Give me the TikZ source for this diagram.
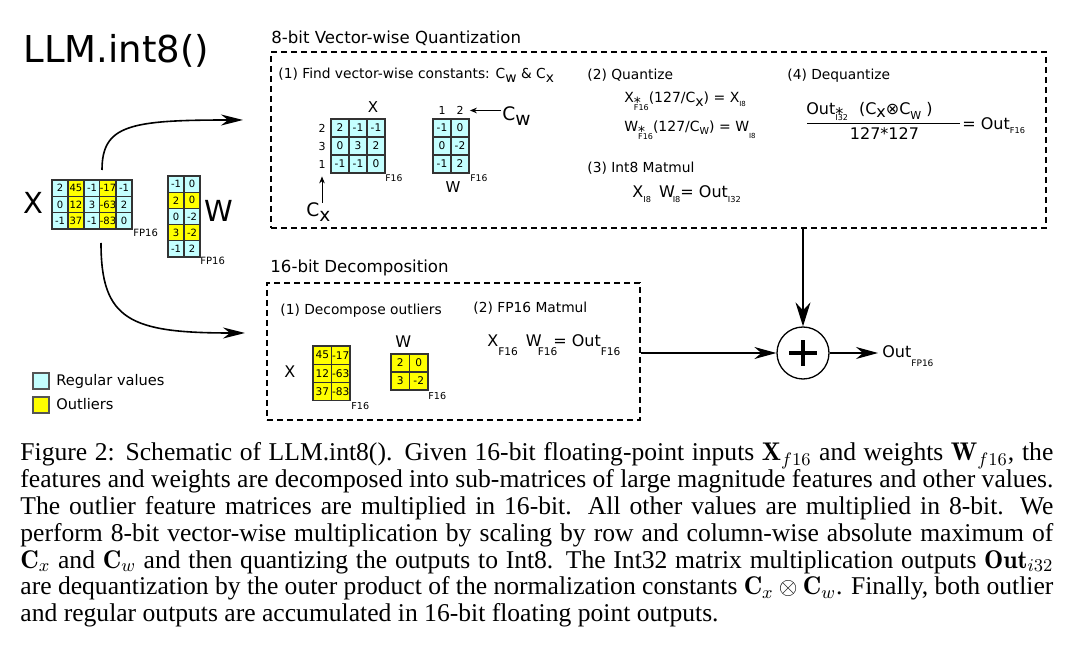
\documentclass[tikz,border=0pt]{standalone}
\usepackage{fontspec}
\newfontfamily\dv{DejaVu Sans}
\newfontfamily\capfont{Liberation Serif}
\usetikzlibrary{arrows.meta}
\newcommand\myfs[1]{\fontsize{#1}{#1}\selectfont}
\newcommand\tsub[3]{\raisebox{-#1}{\myfs{#2}#3}}
\newcommand\starsub[4]{\makebox[0pt][l]{\raisebox{-#1}{*}}\raisebox{-#2}{\myfs{#3}#4}}
\definecolor{cy}{HTML}{C4FFFF}
\definecolor{yl}{HTML}{FFFF00}
\definecolor{cellb}{HTML}{333333}
\definecolor{legb}{HTML}{555555}
\begin{document}
\begin{tikzpicture}[x=0.5pt,y=-0.5pt,
  lbl/.style={inner sep=0, anchor=base west, font=\dv\myfs{6.9}},
  cell/.style={draw=cellb, line width=0.55pt, inner sep=0, font=\dv\myfs{5.3}},
  dbox/.style={draw, line width=1.2pt, dash pattern=on 3pt off 2pt, inner sep=0},
  bigarr/.style={-{Stealth[length=12pt,width=7.5pt,inset=4pt]}, line width=0.75pt},
  midarr/.style={-{Stealth[length=11pt,width=6pt,inset=3.5pt]}, line width=0.75pt},
  curvarr/.style={-{Stealth[length=11pt,width=5.5pt,inset=3.5pt]}, line width=0.8pt},
  smallarr/.style={-{Stealth[length=3.5pt,width=2.8pt]}, line width=0.5pt},
  captext/.style={inner sep=0, anchor=base west, font=\capfont\fontsize{12.8}{13}\selectfont}]
\useasboundingbox (0,0) rectangle (1083,668);

% title
\node[lbl, font=\dv\myfs{18.5}] (title) at (23,63) {LLM.int8()};

% left matrices
\node[lbl, font=\dv\myfs{14.5}] (xlab) at (23,214) {X};
\node[lbl, font=\dv\myfs{14.5}] (wlab) at (204,222) {W};
\foreach \vals [count=\r] in {{2,45,-1,-17,-1},{0,12,3,-63,2},{-1,37,-1,-83,0}}{
  \foreach \v [count=\c] in \vals {
    \ifodd\c\def\col{cy}\else\def\col{yl}\fi
    \node[cell, font=\dv\myfs{5}, fill=\col, minimum width=8pt, minimum height=8.17pt] (lx\r\c) at ({52+16*(\c-0.5)},{180+16.33*(\r-0.5)}) {\v};
  }
}
\foreach \vals [count=\r] in {{-1,0},{2,0},{0,-2},{3,-2},{-1,2}}{
  \ifodd\r\def\col{cy}\else\def\col{yl}\fi
  \foreach \v [count=\c] in \vals {
    \node[cell, font=\dv\myfs{5}, fill=\col, minimum width=8pt, minimum height=8.1pt] (lw\r\c) at ({168+16*(\c-0.5)},{176+16.2*(\r-0.5)}) {\v};
  }
}
\node[inner sep=0, anchor=west, font=\dv\myfs{5}] (xfp) at (133,233) {FP16};
\node[inner sep=0, anchor=west, font=\dv\myfs{5}] (wfp) at (200,261) {FP16};

% curved arrows
\coordinate (ua) at (102,170); \coordinate (ub) at (243,120);
\draw[curvarr] (ua) .. controls (102,125) and (130,120) .. (ub);
\coordinate (la) at (101,243); \coordinate (lb) at (245,333);
\draw[curvarr] (la) .. controls (101,320) and (130,333) .. (lb);

% legend
\node[draw=legb, fill=cy, line width=0.6pt, minimum size=8pt, inner sep=0] (lg1) at (41,381) {};
\node[draw=legb, fill=yl, line width=0.6pt, minimum size=8pt, inner sep=0] (lg2) at (41,405) {};
\node[lbl, font=\dv\myfs{7.3}] (lt1) at (56,386) {Regular values};
\node[lbl, font=\dv\myfs{7.3}] (lt2) at (56,410) {Outliers};

% 8-bit box
\node[lbl, font=\dv\myfs{8.3}] (t8) at (271,44) {8-bit Vector-wise Quantization};
\node[dbox, minimum width=387.5pt, minimum height=88pt] (q8) at (658.5,140) {};
\node[lbl] (s1) at (278,79) {(1) Find vector-wise constants: C\raisebox{-1.7pt}{w} \& C\raisebox{-1.7pt}{x}};
\node[lbl, anchor=base, font=\dv\myfs{7.5}] (xl8) at (373,113) {X};
\foreach \vals [count=\r] in {{2,-1,-1},{0,3,2},{-1,-1,0}}{
  \foreach \v [count=\c] in \vals {
    \node[cell, fill=cy, minimum size=9pt] (sx\r\c) at ({331+18*(\c-0.5)},{119+18*(\r-0.5)}) {\v};
  }
}
\foreach \vals [count=\r] in {{-1,0},{0,-2},{-1,2}}{
  \foreach \v [count=\c] in \vals {
    \node[cell, fill=cy, minimum size=9pt] (sw\r\c) at ({433+18*(\c-0.5)},{119+18*(\r-0.5)}) {\v};
  }
}
\foreach \v/\y [count=\i] in {2/128,3/146,1/164}
  \node[inner sep=0, font=\dv\myfs{5.5}] (rl\i) at (322,\y) {\v};
\foreach \v/\x in {1/442,2/460}
  \node[inner sep=0, font=\dv\myfs{5.5}] (cl\v) at (\x,110.5) {\v};
\node[inner sep=0, anchor=west, font=\dv\myfs{4.6}] (xf16a) at (385,178) {F16};
\node[inner sep=0, anchor=west, font=\dv\myfs{4.6}] (wf16a) at (470,178) {F16};
\node[lbl, anchor=base, font=\dv\myfs{7.5}] (wl8) at (453,193) {W};
\node[lbl, font=\dv\myfs{9.3}] (cx) at (306,217) {C\raisebox{-2.5pt}{x}};
\node[lbl, font=\dv\myfs{9.3}] (cw) at (502,121) {C\raisebox{-2.5pt}{w}};
\draw[smallarr] (rl3.south |- cx.north) -- ([yshift=-4pt]rl3.south);
\draw[smallarr] ([xshift=-0.5pt]cw.west |- cl2) -- ([xshift=3pt]cl2.east);

\node[lbl] (s2) at (587,80) {(2) Quantize};
\node[lbl, font=\dv\myfs{7}] (q1) at (624,103) {X\starsub{2.5pt}{3.7pt}{4}{F16}(127/C\raisebox{-2pt}{x}) = X\tsub{2pt}{3.5}{I8}};
\node[lbl, font=\dv\myfs{7}] (q2) at (624,132) {W\starsub{2.5pt}{3.7pt}{4}{F16}(127/C\tsub{1.5pt}{4.8}{W}) = W\tsub{3.5pt}{3.5}{I8}};
\node[lbl] (s3) at (587,173) {(3) Int8 Matmul};
\node[lbl, font=\dv\myfs{8}] (mm8) at (632,198) {X\tsub{2.5pt}{4.1}{I8}\hspace{4pt}W\hspace{-1pt}\tsub{2.5pt}{4.1}{I8}= Out\tsub{2.5pt}{4.1}{I32}};
\node[lbl] (s4) at (787,80) {(4) Dequantize};
\node[lbl, font=\dv\myfs{8}] (num) at (806,115) {Out\starsub{2.5pt}{2.7pt}{4}{I32}\hspace{3pt} (C\raisebox{-1.5pt}{x}⊗C\tsub{2.5pt}{5.5}{W} )};
\draw[line width=0.5pt] (807,124) -- (960,124);
\node[lbl, anchor=base, font=\dv\myfs{8}] (den) at (884.5,140) {127*127};
\node[lbl, font=\dv\myfs{8}] (dq) at (962,130) {= Out\tsub{2pt}{4.1}{F16}};

% 16-bit box
\node[lbl, font=\dv\myfs{8.3}] (t16) at (270,273) {16-bit Decomposition};
\node[dbox, minimum width=186.5pt, minimum height=68.5pt] (d16) at (453.5,351.5) {};
\node[lbl] (d1) at (280,315) {(1) Decompose outliers};
\node[lbl] (d2) at (473,313) {(2) FP16 Matmul};
\node[lbl, font=\dv\myfs{8}] (xl16) at (284,378) {X};
\node[lbl, font=\dv\myfs{8}] (wl16) at (395,348) {W};
\foreach \vals [count=\r] in {{45,-17},{12,-63},{37,-83}}{
  \foreach \v [count=\c] in \vals {
    \node[cell, fill=yl, minimum width=9.25pt, minimum height=9.15pt] (ox\r\c) at ({313+18.5*(\c-0.5)},{346+18.3*(\r-0.5)}) {\v};
  }
}
\foreach \vals [count=\r] in {{2,0},{3,-2}}{
  \foreach \v [count=\c] in \vals {
    \node[cell, fill=yl, minimum width=9.25pt, minimum height=9pt] (ow\r\c) at ({391+18.5*(\c-0.5)},{354+18*(\r-0.5)}) {\v};
  }
}
\node[inner sep=0, anchor=west, font=\dv\myfs{4.8}] (xf16b) at (351,406.5) {F16};
\node[inner sep=0, anchor=west, font=\dv\myfs{4.8}] (wf16b) at (428,396.5) {F16};
\node[lbl, font=\dv\myfs{8}] (mm16) at (487,347) {X\tsub{4.2pt}{5.3}{F16}\hspace{4pt}W\hspace{-2pt}\tsub{4.2pt}{5.3}{F16}\hspace{-2pt}= Out\tsub{4.2pt}{5.3}{F16}};

% accumulation
\node[circle, draw, line width=0.65pt, minimum size=26pt, inner sep=0] (plus) at (803,353) {};
\draw[line width=2.2pt] ([xshift=-7pt]plus.center) -- ([xshift=7pt]plus.center);
\draw[line width=2.2pt] ([yshift=-6.5pt]plus.center) -- ([yshift=6.5pt]plus.center);
\node[lbl, font=\dv\myfs{8}] (out) at (882,358) {Out\tsub{4.5pt}{4.5}{FP16}};
\draw[bigarr] (q8.south -| plus) -- (plus.north);
\draw[midarr] (plus -| d16.east) -- (plus.west);
\draw[midarr] (plus.east) -- ([xshift=-2pt]plus -| out.west);

% caption
\node[captext] (c1) at (20,461) {\makebox[516.5pt][s]{Figure 2: Schematic of LLM.int8(). Given 16-bit floating-point inputs $\mathbf{X}_{f16}$ and weights $\mathbf{W}_{f16}$, the}};
\node[captext] (c2) at (20,487.8) {\makebox[516.5pt][s]{features and weights are decomposed into sub-matrices of large magnitude features and other values.}};
\node[captext] (c3) at (20,514.6) {\makebox[516.5pt][s]{The outlier feature matrices are multiplied in 16-bit. All other values are multiplied in 8-bit. We}};
\node[captext] (c4) at (20,541.4) {\makebox[516.5pt][s]{perform 8-bit vector-wise multiplication by scaling by row and column-wise absolute maximum of}};
\node[captext] (c5) at (20,568.2) {\makebox[516.5pt][s]{$\mathbf{C}_x$ and $\mathbf{C}_w$ and then quantizing the outputs to Int8. The Int32 matrix multiplication outputs $\mathbf{Out}_{i32}$}};
\node[captext] (c6) at (20,595) {\makebox[516.5pt][s]{are dequantization by the outer product of the normalization constants $\mathbf{C}_x \otimes \mathbf{C}_w$. Finally, both outlier}};
\node[captext] (c7) at (20,621.8) {and regular outputs are accumulated in 16-bit floating point outputs.};
\end{tikzpicture}
\end{document}
